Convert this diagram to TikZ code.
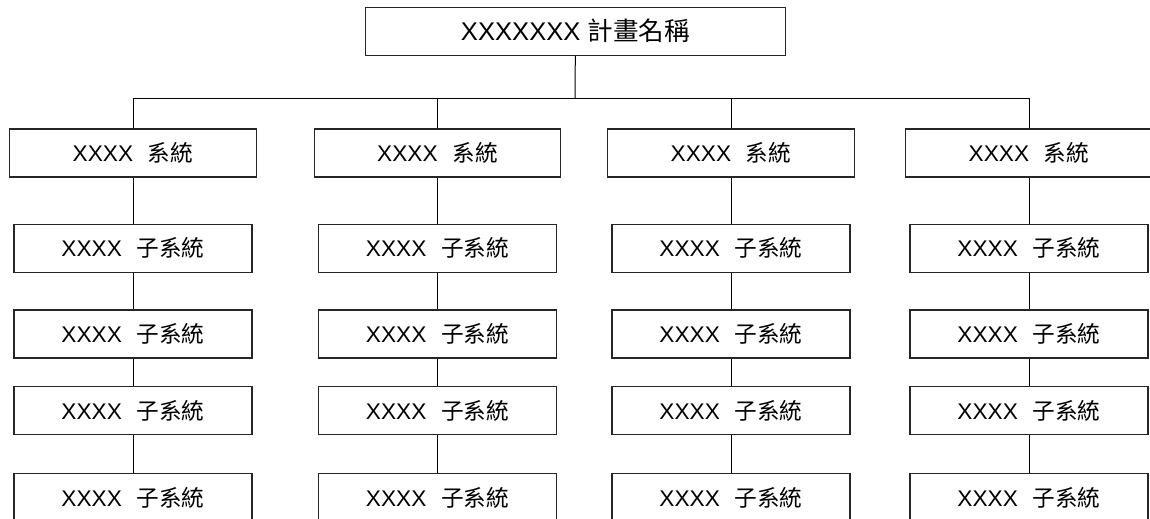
\documentclass[tikz,border=0pt]{standalone}
\usepackage{fontspec}
\setmainfont{Liberation Sans}
\newfontfamily\cjk{Noto Sans CJK TC}
\begin{document}
\begin{tikzpicture}[x=0.75pt,y=-0.75pt,
  box/.style={draw=black!85,line width=0.9pt,minimum height=36pt,inner sep=0pt,
    font=\fontsize{17}{20}\selectfont},
  sysbox/.style={box,minimum width=185pt},
  subbox/.style={box,minimum width=178.5pt},
  link/.style={draw=black,line width=0.75pt}]
\clip (0,0) rectangle (1150,518);
\fill[white] (0,0) rectangle (1150,518);
\node[box,minimum width=315.5pt,font=\fontsize{19.2}{22}\selectfont] (top) at (575.5,31.2) {XXXXXXX {\cjk 計畫名稱}};
\coordinate (bus) at (575,98);
\foreach \c/\x in {1/133,2/437.5,3/731,4/1029}{
  \node[sysbox] (s\c) at (\x,153) {XXXX\hspace{0.65em}{\cjk 系統}\hspace{6pt}};
  \node[subbox] (u\c1) at (\x,248.3) {XXXX\hspace{0.65em}{\cjk 子系統}\hspace{4pt}};
  \node[subbox] (u\c2) at (\x,334) {XXXX\hspace{0.65em}{\cjk 子系統}\hspace{4pt}};
  \node[subbox] (u\c3) at (\x,410.5) {XXXX\hspace{0.65em}{\cjk 子系統}\hspace{4pt}};
  \node[subbox] (u\c4) at (\x,497.5) {XXXX\hspace{0.65em}{\cjk 子系統}\hspace{4pt}};
  \coordinate (b\c) at (\x,98);
}
\draw[link] (top) -- (bus);
\draw[link] (b1) -- (b4);
\foreach \c in {1,2,3,4}{
  \draw[link] (b\c) -- (s\c);
  \draw[link] (s\c) -- (u\c1);
  \draw[link] (u\c1) -- (u\c2);
  \draw[link] (u\c2) -- (u\c3);
  \draw[link] (u\c3) -- (u\c4);
}
\end{tikzpicture}
\end{document}
